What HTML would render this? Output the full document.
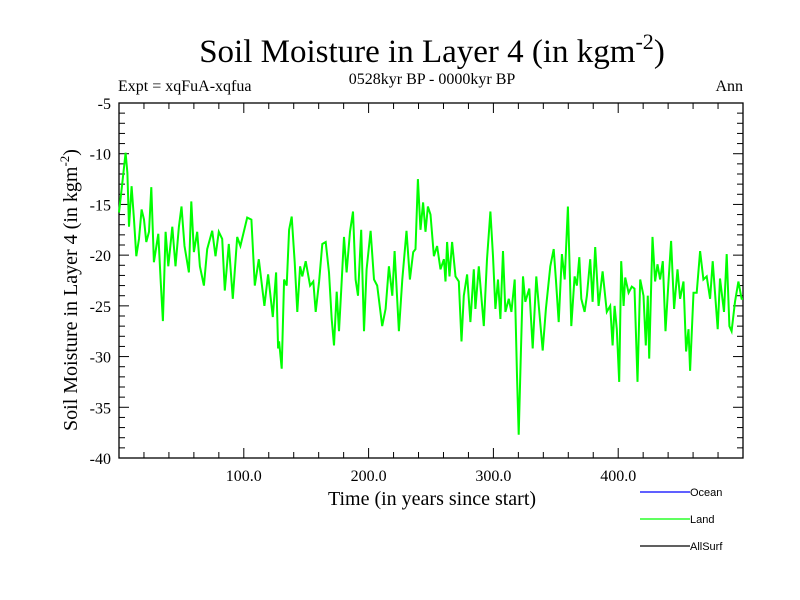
<!DOCTYPE html>
<html><head><meta charset="utf-8"><style>
body{margin:0;background:#fff;}
svg{display:block;font-family:"Liberation Serif",serif;}
</style></head><body>
<svg id="chart" width="800" height="600" viewBox="0 0 800 600">
<text x="432" y="62" font-size="33" text-anchor="middle">Soil Moisture in Layer 4 (in kgm<tspan dy="-13" font-size="22">-2</tspan><tspan dy="13">)</tspan></text>
<text x="118" y="91" font-size="16">Expt = xqFuA-xqfua</text>
<text x="432" y="84" font-size="16" text-anchor="middle">0528kyr BP - 0000kyr BP</text>
<text x="743" y="91" font-size="16" text-anchor="end">Ann</text>
<g id="axes"></g>
<path id="land-line" fill="none" stroke="#00ff00" stroke-width="2"/>
<text x="432" y="505" font-size="20" text-anchor="middle">Time (in years since start)</text>
<text transform="translate(77,290) rotate(-90)" font-size="20" text-anchor="middle">Soil Moisture in Layer 4 (in kgm<tspan dy="-8" font-size="13">-2</tspan><tspan dy="8">)</tspan></text>
<g font-family="Liberation Sans, sans-serif" font-size="11">
<line x1="640" y1="492" x2="690" y2="492" stroke="#0000ff" stroke-width="1.3"/>
<text x="690" y="496">Ocean</text>
<line x1="640" y1="519" x2="690" y2="519" stroke="#00ff00" stroke-width="1.3"/>
<text x="690" y="523">Land</text>
<line x1="640" y1="546" x2="690" y2="546" stroke="#000" stroke-width="1.3"/>
<text x="690" y="550">AllSurf</text>
</g>
</svg>
<script>
const years=[0,2.7,5.3,6.7,8,10.1,12,13.9,16,18.1,20,21.9,24,25.9,28,31.5,33.3,35.2,37.3,39.5,42.7,45.3,48,50.1,52.5,56,57.9,60,62.7,64.8,68,70.7,74.7,77.3,80,82.7,84.8,88,91.2,94.7,97.3,102.7,106.1,108.8,112,116.5,119.5,123.2,125.9,127.5,
128.3,130.4,132.3,134.4,136.3,138.4,140.8,142.9,145.1,146.9,149.6,153.1,155.7,157.6,160.3,162.9,165.6,168.3,170.4,172.3,174.4,176.3,178.1,180.3,182.4,185.1,187.5,189.6,191.5,194.1,196.3,198.4,201.6,204.3,206.9,210.9,213.6,216.3,219,220.8,224.3,227,230.4,233.1,235.7,237.6,239.5,241.6,243.7,245.6,247.5,249.6,
252.3,254.9,257.6,260.3,261.6,262.9,264.8,266.9,269.6,272.3,274.4,276.3,278.9,281.6,284.3,285.6,288.3,292.3,294.9,297.6,299.7,301.6,303.7,305.6,307.7,309.6,312.3,314.4,317.1,318.9,320.3,322.1,323.7,325.6,328.8,331.5,334.4,336.8,339.5,342.1,345.6,348.3,350.1,352.3,354.9,357.1,359.7,362.4,365.1,366.9,368.8,370.4,373.1,
374.9,377.6,379.5,381.6,384.3,387.5,390.9,393.6,395.5,397.1,398.9,400.8,402.4,404.3,405.6,408.3,410.9,413.1,415.5,417.6,420.3,422.1,423.7,424.8,427.5,429.6,431.5,433.6,435.7,437.9,440.3,442.4,444.8,447.5,449.6,452.3,454.4,456.3,457.6,460.3,462.9,465.6,468.3,470.9,473.6,475.7,477.6,479.7,481.6,484.8,486.9,489.1,490.9,493.6,496.3,498.9,500];
const landValues=[-15.8,-12.8,-9.9,-11.9,-17.2,-13.2,-16.5,-20.1,-18.4,-15.5,-16.5,-18.7,-17.7,-13.3,-20.7,-17.9,-22.4,-26.5,-17.7,-21.1,-17.2,-21.1,-17.2,-15.2,-19.1,-21.7,-14.7,-19.7,-17.7,-21.1,-23.0,-19.4,-17.6,-20.1,-17.7,-18.4,-23.5,-18.9,-24.3,-18.2,-19.1,-16.3,-16.5,-23.0,-20.4,-25.0,-21.9,-26.1,-21.7,-29.2,
-28.5,-31.2,-22.4,-23.0,-17.5,-16.2,-20.7,-25.6,-21.1,-22.1,-20.6,-23.0,-22.6,-25.6,-22.6,-18.9,-18.7,-21.7,-26.3,-28.9,-23.6,-27.5,-23.3,-18.2,-21.7,-17.7,-15.7,-22.4,-24.0,-17.5,-27.5,-21.4,-17.6,-22.4,-23.0,-27.0,-25.3,-21.1,-24.0,-19.6,-27.5,-22.4,-17.6,-22.4,-19.7,-19.4,-12.5,-17.5,-14.8,-17.7,-15.2,-16.0,
-20.1,-19.1,-21.4,-20.4,-22.6,-18.7,-22.1,-18.7,-22.1,-22.6,-28.5,-24.0,-21.9,-26.6,-21.4,-25.3,-21.1,-27.0,-20.4,-15.7,-20.1,-25.3,-22.4,-26.3,-19.6,-25.6,-24.3,-25.6,-22.4,-31.9,-37.7,-29.2,-22.1,-24.6,-23.3,-29.2,-22.1,-25.6,-29.4,-25.3,-21.1,-19.4,-22.4,-26.6,-19.9,-22.4,-15.2,-27.0,-22.1,-23.0,-20.2,-24.3,-25.6,
-24.0,-20.4,-24.6,-19.2,-25.0,-21.6,-25.6,-25.0,-28.9,-25.0,-27.3,-32.5,-20.6,-25.0,-22.2,-23.7,-23.1,-23.3,-32.5,-22.4,-24.0,-28.9,-24.0,-30.2,-18.2,-22.6,-20.9,-22.4,-20.6,-27.5,-22.6,-18.6,-25.3,-21.4,-24.3,-22.6,-29.5,-27.3,-31.4,-23.7,-23.7,-19.6,-22.4,-22.1,-24.3,-20.6,-23.7,-27.3,-22.3,-25.6,-19.9,-27.0,-27.5,-24.6,-22.6,-24.3,-24.3];
const yTicks=[-5,-10,-15,-20,-25,-30,-35,-40];
const xTicks=[100,200,300,400];
const xTickLabels=["100.0","200.0","300.0","400.0"];

const X0=119,X1=743,Y0=103,Y1=458,xMin=0,xMax=500,yMin=-40,yMax=-5;
const xs=v=>X0+(v-xMin)/(xMax-xMin)*(X1-X0);
const ys=v=>Y1-(v-yMin)/(yMax-yMin)*(Y1-Y0);
const NS='http://www.w3.org/2000/svg';
const axes=document.getElementById('axes');
function mk(tag,attrs){const e=document.createElementNS(NS,tag);for(const k in attrs)e.setAttribute(k,attrs[k]);axes.appendChild(e);return e;}
const frame=mk('rect',{x:X0,y:Y0,width:X1-X0,height:Y1-Y0,fill:'none',stroke:'#000','stroke-width':1.3});


for(let v=yMin;v<=yMax;v++){
  const major=v%5===0,l=major?10:6,y=ys(v);
  const t1=mk('line',{x1:X0,y1:y,x2:X0+l,y2:y,stroke:'#000','stroke-width':1});
  
  
  const t2=mk('line',{x1:X1,y1:y,x2:X1-l,y2:y,stroke:'#000','stroke-width':1});
  
  
}
yTicks.forEach(v=>{
  const t=mk('text',{x:X0-8,y:ys(v)+6,'font-size':16,'text-anchor':'end'});
  t.textContent=String(v);
  
  
});
for(let v=20;v<xMax;v+=20){
  const major=v%100===0,l=major?10:6,x=xs(v);
  const t1=mk('line',{x1:x,y1:Y1,x2:x,y2:Y1-l,stroke:'#000','stroke-width':1});
  
  
  const t2=mk('line',{x1:x,y1:Y0,x2:x,y2:Y0+l,stroke:'#000','stroke-width':1});
  
  
}
xTicks.forEach((v,i)=>{
  const t=mk('text',{x:xs(v),y:Y1+23,'font-size':16,'text-anchor':'middle'});
  t.textContent=xTickLabels[i];
  
  
});
document.getElementById('land-line').setAttribute('d',years.map((t,i)=>(i?'L':'M')+xs(t).toFixed(1)+' '+ys(landValues[i]).toFixed(1)).join(''));
</script>
</body></html>
